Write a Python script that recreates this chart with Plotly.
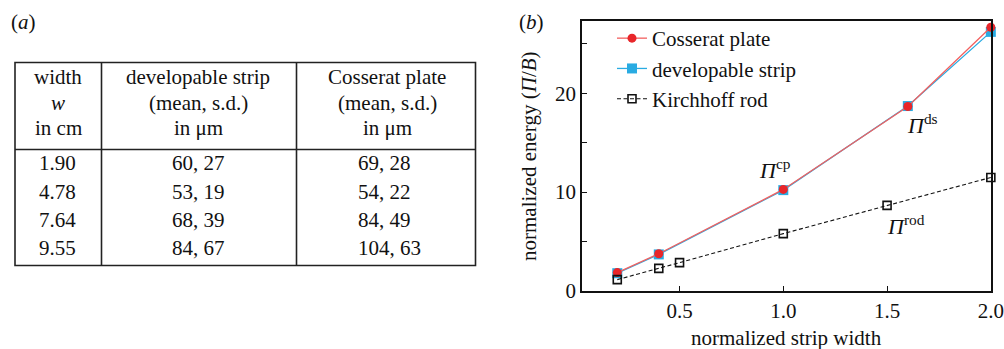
import plotly.graph_objects as go

W, H = 1004, 349

# ---------- data ----------
table_widths = ["1.90", "4.78", "7.64", "9.55"]
table_ds = ["60, 27", "53, 19", "68, 39", "84, 67"]
table_cp = ["69, 28", "54, 22", "84, 49", "104, 63"]

cp_x = [0.2, 0.4, 1.0, 1.6, 2.0]
cp_y = [1.86, 3.77, 10.27, 18.66, 26.67]
ds_x = [0.2, 0.4, 1.0, 1.6, 2.0]
ds_y = [1.80, 3.70, 10.20, 18.70, 26.20]
rod_x = [0.2, 0.4, 0.5, 1.0, 1.5, 2.0]
rod_y = [1.15, 2.29, 2.87, 5.80, 8.66, 11.48]

x_ticks = [0.5, 1.0, 1.5, 2.0]
x_ticktext = ["0.5", "1.0", "1.5", "2.0"]
y_ticks = [0, 5, 10, 15, 20, 25]
y_ticktext = ["0", "", "10", "", "20", ""]

FONT = "Liberation Serif, Times New Roman, serif"
FS = 21


def px(x):
    return x / W


def py(y):
    return 1 - y / H


fig = go.Figure()

fig.add_trace(go.Scatter(
    x=ds_x, y=ds_y, mode="lines+markers", name="developable strip",
    line=dict(color="#29abe2", width=1.3),
    marker=dict(symbol="square", size=10, color="#29abe2"),
    cliponaxis=False, legendrank=2,
))
fig.add_trace(go.Scatter(
    x=cp_x, y=cp_y, mode="lines+markers", name="Cosserat plate",
    line=dict(color="#f2605f", width=1.3),
    marker=dict(symbol="circle", size=9, color="#e8262a"),
    cliponaxis=False, legendrank=1,
))
fig.add_trace(go.Scatter(
    x=rod_x, y=rod_y, mode="lines+markers", name="Kirchhoff rod",
    line=dict(color="#111111", width=1.1, dash="4px,2.5px"),
    marker=dict(symbol="square-open", size=8, color="#111111", line=dict(width=1.6)),
    cliponaxis=False, legendrank=3,
))

x0p, x1p, y0p, y1p = 582, 991, 291, 21

axis_common = dict(
    showline=True, mirror=True, linecolor="#111111", linewidth=1.6,
    ticks="inside", ticklen=5, tickwidth=1.2, tickcolor="#111111",
    showgrid=False, zeroline=False,
    tickfont=dict(family=FONT, size=FS, color="#111111"),
    automargin=False, ticklabeloverflow="allow",
)

fig.update_layout(
    width=W, height=H,
    margin=dict(l=0, r=0, t=0, b=0, pad=0),
    paper_bgcolor="white", plot_bgcolor="white",
    template="none",
    font=dict(family=FONT, size=FS, color="#111111"),
    xaxis=dict(domain=[px(x0p), px(x1p)], range=[0.03, 2.0008],
               tickvals=x_ticks, ticktext=x_ticktext, **axis_common),
    yaxis=dict(domain=[py(y0p), py(y1p)], range=[0, 27.3],
               tickvals=y_ticks, ticktext=y_ticktext, **axis_common),
    legend=dict(
        x=px(612), y=py(18), xanchor="left", yanchor="top",
        font=dict(family=FONT, size=FS, color="#111111"),
        bgcolor="rgba(0,0,0,0)", traceorder="normal",
        itemwidth=30, tracegroupgap=0,
    ),
    showlegend=True,
)

ann = []


def text(x, y, s, xanchor="center", yanchor="middle", size=FS, angle=0):
    ann.append(dict(x=px(x), y=py(y), xref="paper", yref="paper", text=s,
                    showarrow=False, xanchor=xanchor, yanchor=yanchor,
                    textangle=angle,
                    font=dict(family=FONT, size=size, color="#111111")))


# panel labels
text(9, 22, "(<i>a</i>)", xanchor="left")
text(517, 22, "(<i>b</i>)", xanchor="left")

# axis titles
text(529, 156, "normalized energy (<i>Π</i>/<i>B</i>)", angle=-90)
text(786, 338, "normalized strip width")

# curve labels
text(757, 169, "<i>Π</i><sup>cp</sup>", xanchor="left", size=22)
text(905, 124, "<i>Π</i><sup>ds</sup>", xanchor="left", size=22)
text(885, 225, "<i>Π</i><sup>rod</sup>", xanchor="left", size=22)

# table header
col_c = [58, 198, 387]
headers = [["width", "<i>w</i>", "in cm"],
           ["developable strip", "(mean, s.d.)", "in μm"],
           ["Cosserat plate", "(mean, s.d.)", "in μm"]]
head_y = [77, 103, 128]
for c, lines in zip(col_c, headers):
    for yy, s in zip(head_y, lines):
        text(c, yy, s)

row_y = [163, 192, 220, 248]
for i, yy in enumerate(row_y):
    text(57, yy, table_widths[i])
    text(198, yy, table_ds[i])
    text(356, yy, table_cp[i], xanchor="left")

fig.update_layout(annotations=ann)

# table lines
shapes = []
lc = dict(color="#222222", width=1.6)
shapes.append(dict(type="rect", xref="paper", yref="paper",
                   x0=px(15), x1=px(475.5), y0=py(62.5), y1=py(265.5), line=lc))
shapes.append(dict(type="line", xref="paper", yref="paper",
                   x0=px(15), x1=px(475.5), y0=py(149.5), y1=py(149.5), line=lc))
for xv in (101.5, 296.5):
    shapes.append(dict(type="line", xref="paper", yref="paper",
                       x0=px(xv), x1=px(xv), y0=py(62.5), y1=py(265.5), line=lc))
fig.update_layout(shapes=shapes)

fig.write_html("out.html")
